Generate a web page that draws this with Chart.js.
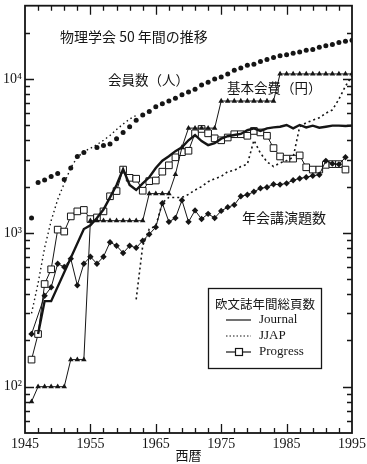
<!DOCTYPE html>
<html>
<head>
<meta charset="utf-8">
<script src="https://cdn.jsdelivr.net/npm/chart.js@4.4.1/dist/chart.umd.min.js"></script>
<style>
  html, body { margin: 0; padding: 0; background: #fff; }
</style>
</head>
<body>
<canvas id="chart" width="367" height="464"></canvas>
<script>
// one value per year, null where the figure has no mark
const years = [1946, 1947, 1948, 1949, 1950, 1951, 1952, 1953, 1954, 1955,
  1956, 1957, 1958, 1959, 1960, 1961, 1962, 1963, 1964, 1965,
  1966, 1967, 1968, 1969, 1970, 1971, 1972, 1973, 1974, 1975,
  1976, 1977, 1978, 1979, 1980, 1981, 1982, 1983, 1984, 1985,
  1986, 1987, 1988, 1989, 1990, 1991, 1992, 1993, 1994, 1995];

// 会員数（人）
const members = [1250, 2130, 2210, 2330, 2430, 2220, 2640, 3140, 3330, null,
  3590, 3700, 3780, 4100, 4500, 4900, 5400, 5850, 6150, 6600,
  6900, 7200, 7500, 7900, 8250, 8600, 9150, 9550, 10000, 10300,
  10800, 11400, 11800, 12300, 12500, 13000, 13400, 13800, 14200, 14400,
  14700, 15000, 15400, 15600, 16100, 16500, 16800, 17300, 17600, 17900];

// dotted curve under the early member dots
const membersEarly = [300, 470, 800, 1200, 1650, 2100, 2650, 3100, 3380, 3550,
  3750, 4000, 4300, 4700, 5100, 5500, 5800, null, null, null,
  null, null, null, null, null, null, null, null, null, null,
  null, null, null, null, null, null, null, null, null, null,
  null, null, null, null, null, null, null, null, null, null];

// 基本会費（円）
const fee = [80, 100, 100, 100, 100, 100, 150, 150, 150, 1200,
  1200, 1200, 1200, 1200, 1200, 1200, 1200, 1200, 1800, 1800,
  1800, 1800, 2400, 3600, 4800, 4800, 4800, 4800, 4800, 7200,
  7200, 7200, 7200, 7200, 7200, 7200, 7200, 7200, 10800, 10800,
  10800, 10800, 10800, 10800, 10800, 10800, 10800, 10800, 10800, 10800];

// 年会講演題数
const talks = [220, null, 390, 443, 630, 600, 680, 456, 630, 700,
  630, 700, 870, 825, 740, 825, 800, 890, 980, 1090,
  1560, 1180, 1250, 1630, 1180, 1400, 1230, 1330, 1250, 1390,
  1470, 1520, 1730, 1770, 1850, 1950, 1980, 2070, 2060, 2100,
  2200, 2260, 2300, 2350, 2390, 2940, 2820, 2790, 3100, null];

// 欧文誌年間総頁数
const journal = [null, 220, 360, 360, null, null, null, null, 1060, 1120,
  1250, 1420, 1700, 2050, 2600, 2050, 1900, 2100, 2300, 2640,
  2950, 3150, 3400, 3600, 4000, 4330, 3950, 3720, 3830, 4100,
  4250, 4330, 4400, 4650, 4780, 4600, 4780, 4850, 4900, 5030,
  4780, 5030, 4850, 4980, 4830, 4900, 4980, 4980, 4950, 4980];

const jjap = [null, null, null, null, null, null, null, null, null, null,
  null, null, null, null, null, null, 370, 825, 1060, 1110,
  1570, 1700, 1700, 1700, 1780, 1900, 2000, 2150, 2250, 2330,
  2500, 2550, 2700, 2800, 4000, 3300, 2900, 2700, 2850, 2950,
  3100, 4900, 5200, 5400, 5600, 6000, 6300, 7400, 9000, 10500];

const progress = [150, 220, 465, 580, 1050, 1020, 1280, 1380, 1410, 1230,
  1260, 1380, 1730, 1870, 2580, 2280, 2250, 1880, 2170, 2190,
  2500, 2750, 3100, 3350, 3420, 4440, 4740, 4440, 4120, 4000,
  4170, 4380, 4380, 4280, 4600, 4500, 4280, 3560, 3140, 3040,
  3040, 3190, 2670, 2580, 2580, 2770, 2800, 2800, 2580, null];

const yearTicks = [1945, 1955, 1965, 1975, 1985, 1995];
const powerLabels = { 100: '10²', 1000: '10³', 10000: '10⁴' };

const ink = '#151515';
const serif = '"Liberation Serif", "Noto Sans CJK JP", serif';
const jp = '"Noto Sans CJK JP", sans-serif';

let pts = arr => years.map((yr, i) => ({ x: yr, y: arr[i] }));

// inward tick marks on all four sides + frame
let frameTicks = {
  id: 'frameTicks',
  afterDatasetsDraw(chart) {
    const { ctx, chartArea: a, scales: { x, y } } = chart;
    ctx.save();
    ctx.strokeStyle = ink;
    ctx.lineWidth = 1.3;
    ctx.beginPath();
    for (let yr = 1947; yr < 1995; yr += 2) {
      let px = Math.round(x.getPixelForValue(yr)) + 0.5;
      let len = (yr - 1945) % 10 == 0 ? 9 : 5;
      ctx.moveTo(px, a.bottom); ctx.lineTo(px, a.bottom - len);
      ctx.moveTo(px, a.top); ctx.lineTo(px, a.top + len);
    }
    for (let e = 1; e <= 4; e++) {
      for (let m = 1; m <= 9; m++) {
        let v = m * Math.pow(10, e);
        if (v <= y.min || v >= y.max) continue;
        let py = Math.round(y.getPixelForValue(v)) + 0.5;
        let len = m == 1 ? 9 : 5;
        ctx.moveTo(a.left, py); ctx.lineTo(a.left + len, py);
        ctx.moveTo(a.right, py); ctx.lineTo(a.right - len, py);
      }
    }
    ctx.stroke();
    ctx.lineWidth = 1.8;
    ctx.strokeRect(a.left, a.top, a.right - a.left, a.bottom - a.top);
    ctx.restore();
  }
};

// captions and the boxed legend
let notes = {
  id: 'notes',
  afterDraw(chart) {
    const ctx = chart.ctx;
    ctx.save();
    ctx.fillStyle = ink;
    ctx.textBaseline = 'middle';
    ctx.textAlign = 'left';

    ctx.font = '14px ' + jp;
    ctx.fillText('物理学会 50 年間の推移', 60, 37);
    ctx.font = '13.5px ' + jp;
    ctx.fillText('会員数（人）', 108, 80);
    ctx.fillText('基本会費（円）', 227, 88);
    ctx.font = '14px ' + jp;
    ctx.fillText('年会講演題数', 242, 218);

    // legend box
    ctx.strokeStyle = ink;
    ctx.lineWidth = 1.3;
    ctx.fillStyle = '#fff';
    ctx.fillRect(208, 288, 113, 80);
    ctx.strokeRect(208.5, 288.5, 113, 80);
    ctx.fillStyle = ink;
    ctx.textAlign = 'center';
    ctx.font = '12.5px ' + jp;
    ctx.fillText('欧文誌年間総頁数', 265, 304);

    ctx.textAlign = 'left';
    ctx.font = '13px ' + serif;
    let rows = [['Journal', 320], ['JJAP', 336], ['Progress', 352]];
    rows.forEach(([name, ry], i) => {
      ctx.beginPath();
      ctx.lineWidth = 1.2;
      ctx.setLineDash(i == 1 ? [1.5, 2] : []);
      ctx.moveTo(226, ry); ctx.lineTo(251, ry);
      ctx.stroke();
      ctx.setLineDash([]);
      if (i == 2) {
        ctx.fillStyle = '#fff';
        ctx.fillRect(235, ry - 3.5, 7, 7);
        ctx.strokeRect(235.5, ry - 3.5, 7, 7);
        ctx.fillStyle = ink;
      }
      ctx.fillText(name, 259, ry);
    });
    ctx.restore();
  }
};

let chart = new Chart(document.getElementById('chart'), {
  type: 'line',
  data: {
    datasets: [
      {
        label: '会員数（人）',
        data: pts(members),
        showLine: false,
        pointStyle: 'circle',
        pointRadius: 2.5,
        pointBackgroundColor: ink,
        pointBorderWidth: 0
      },
      {
        label: 'early',
        data: pts(membersEarly),
        borderColor: ink,
        borderWidth: 1.4,
        borderDash: [1.5, 3],
        pointRadius: 0
      },
      {
        label: '基本会費（円）',
        data: pts(fee),
        borderColor: ink,
        borderWidth: 1,
        pointStyle: 'triangle',
        pointRadius: 3.2,
        pointBackgroundColor: ink,
        pointBorderWidth: 0
      },
      {
        label: '年会講演題数',
        data: pts(talks),
        spanGaps: true,
        borderColor: ink,
        borderWidth: 1,
        pointStyle: 'rectRot',
        pointRadius: 3.2,
        pointBackgroundColor: ink,
        pointBorderWidth: 0
      },
      {
        label: 'Journal',
        data: pts(journal),
        spanGaps: true,
        borderColor: ink,
        borderWidth: 2.4,
        pointRadius: 0
      },
      {
        label: 'JJAP',
        data: pts(jjap),
        borderColor: ink,
        borderWidth: 1.6,
        borderDash: [2, 3],
        pointRadius: 0
      },
      {
        label: 'Progress',
        data: pts(progress),
        borderColor: ink,
        borderWidth: 1,
        pointStyle: 'rect',
        pointRadius: 4.7,
        pointBackgroundColor: '#fff',
        pointBorderColor: ink,
        pointBorderWidth: 1
      }
    ]
  },
  options: {
    responsive: false,
    animation: false,
    layout: { padding: { top: 4, right: 15, left: 0, bottom: 0 } },
    plugins: { legend: { display: false }, tooltip: { enabled: false } },
    scales: {
      x: {
        type: 'linear',
        min: 1945,
        max: 1995,
        afterBuildTicks: s => { s.ticks = yearTicks.map(v => ({ value: v })); },
        afterFit: s => { s.height = 31; s.paddingLeft = 0; s.paddingRight = 0; },
        grid: { display: false, drawTicks: false },
        border: { display: false },
        ticks: {
          padding: 3,
          color: ink,
          font: { family: serif, size: 14 },
          maxRotation: 0,
          autoSkip: false,
          callback: v => String(v)
        },
        title: {
          display: true,
          text: '西暦',
          color: ink,
          font: { family: jp, size: 13 },
          padding: { top: 0, bottom: 1 }
        }
      },
      y: {
        type: 'logarithmic',
        min: 50,
        max: 30000,
        afterFit: s => { s.width = 25; s.paddingTop = 0; s.paddingBottom = 0; },
        grid: { display: false, drawTicks: false },
        border: { display: false },
        ticks: {
          padding: 3,
          color: ink,
          font: { family: serif, size: 14 },
          autoSkip: false,
          callback: v => powerLabels[v] || ''
        }
      }
    }
  },
  plugins: [frameTicks, notes]
});
</script>
</body>
</html>
